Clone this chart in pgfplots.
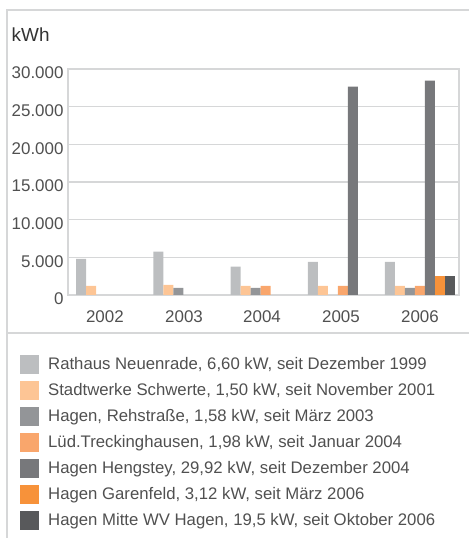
\documentclass[border=0pt]{standalone}
\usepackage{pgfplots}
\pgfplotsset{compat=1.18}
\usepackage{fontspec}
\setmainfont{Liberation Sans}
\definecolor{c1}{HTML}{BCBEC0}
\definecolor{c2}{HTML}{FDC595}
\definecolor{c3}{HTML}{939598}
\definecolor{c4}{HTML}{F9A66C}
\definecolor{c5}{HTML}{77787B}
\definecolor{c6}{HTML}{F7923A}
\definecolor{c7}{HTML}{58595B}
\definecolor{txt}{HTML}{505050}
\definecolor{frame}{HTML}{D6D7D8}
\begin{document}
\begin{tikzpicture}
\useasboundingbox (0,0) rectangle (469bp,538bp);
\draw[frame, line width=1.2bp] (7bp,0) -- (7bp,528bp) -- (469bp,528bp);
\draw[frame, line width=1.2bp] (7bp,205bp) -- (469bp,205bp);
\node[anchor=west, text=black!80, font=\fontsize{19}{22}\selectfont, inner sep=0pt] at (11.5bp,503bp) {kWh};
\begin{axis}[
  at={(68bp,243bp)}, anchor=south west,
  scale only axis, width=391bp, height=226bp,
  xmin=-0.557, xmax=4.505, ymin=0, ymax=30000,
  ybar, bar width=10bp,
  axis line style={frame, line width=1.2bp},
  ymajorgrids, grid style={frame, line width=1.2bp},
  ytick={0,5000,10000,15000,20000,25000,30000},
  xtick={-0.08,0.945,1.955,2.977,4},
  xticklabels={2002,2003,2004,2005,2006},
  major tick length=0pt,
  scaled y ticks=false,
  /pgf/number format/.cd, 1000 sep={.}, assume math mode=true,
  /pgfplots/.cd,
  tick label style={text=txt, font=\fontsize{17}{20}\selectfont},
  yticklabel style={yshift=-4bp, xshift=-1bp},
  xticklabel style={yshift=-12bp},
  legend cell align=left,
  legend style={at={(-0.1228,-0.263)}, anchor=north west, draw=none, fill=none,
    font=\fontsize{16.8}{19}\selectfont, text=txt,
    row sep=7bp, inner sep=0pt,
    /tikz/every odd column/.append style={column sep=7bp}},
  legend image code/.code={\fill[#1, draw=none] (0bp,-9.5bp) rectangle (19bp,9.5bp);},
]
\addplot[fill=c1, draw=none, bar shift=-30bp] coordinates {(0,4800) (1,5750) (2,3750) (3,4400) (4,4400)};
\addplot[fill=c2, draw=none, bar shift=-20bp] coordinates {(0,1200) (1,1350) (2,1200) (3,1200) (4,1200)};
\addplot[fill=c3, draw=none, bar shift=-10bp] coordinates {(1,950) (2,950) (4,950)};
\addplot[fill=c4, draw=none, bar shift=0bp] coordinates {(2,1200) (3,1200) (4,1200)};
\addplot[fill=c5, draw=none, bar shift=10bp] coordinates {(3,27650) (4,28450)};
\addplot[fill=c6, draw=none, bar shift=20bp] coordinates {(4,2500)};
\addplot[fill=c7, draw=none, bar shift=30bp] coordinates {(4,2500)};
\legend{Rathaus Neuenrade{,} 6{,}60 kW{,} seit Dezember 1999,
Stadtwerke Schwerte{,} 1{,}50 kW{,} seit November 2001,
Hagen{,} Rehstraße{,} 1{,}58 kW{,} seit März 2003,
Lüd.Treckinghausen{,} 1{,}98 kW{,} seit Januar 2004,
Hagen Hengstey{,} 29{,}92 kW{,} seit Dezember 2004,
Hagen Garenfeld{,} 3{,}12 kW{,} seit März 2006,
Hagen Mitte WV Hagen{,} 19{,}5 kW{,} seit Oktober 2006}
\end{axis}
\end{tikzpicture}
\end{document}
